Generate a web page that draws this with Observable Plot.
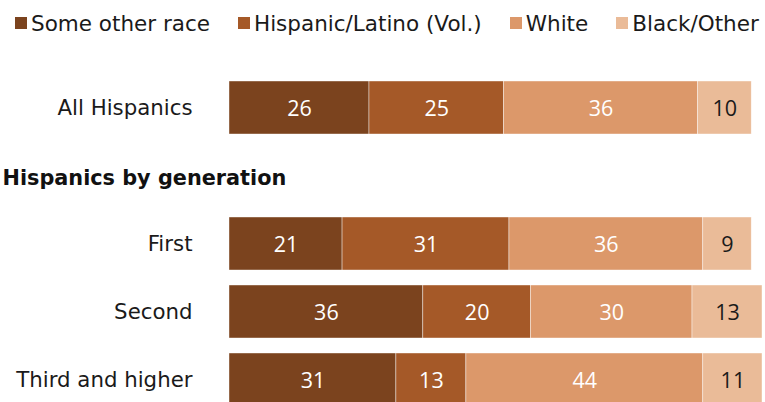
<!DOCTYPE html>
<html><head><meta charset="utf-8">
<script src="https://cdn.jsdelivr.net/npm/d3@7"></script>
<script src="https://cdn.jsdelivr.net/npm/@observablehq/plot@0.6"></script>
<style>
body{margin:0;overflow:hidden;background:#fff;font-family:"DejaVu Sans",Verdana,sans-serif;}
#legend{height:46px;display:flex;align-items:center;padding-left:15px;font-size:21.5px;color:#1a1a1a;white-space:nowrap}
.item{display:flex;align-items:center;margin-right:28px}
.sw{width:12px;height:12px;margin-right:4px;flex:none}
</style></head><body>
<div id="legend"></div><div id="chart"></div>
<script>
const rows = ["All Hispanics", "Hispanics by generation", "First", "Second", "Third and higher"];
const headingRow = "Hispanics by generation";
const series = ["Some other race", "Hispanic/Latino (Vol.)", "White", "Black/Other"];
const colors = ["#7b431e", "#a55928", "#dc986a", "#eabb98"];
const allHispanics = [26, 25, 36, 10];
const firstGen = [21, 31, 36, 9];
const secondGen = [36, 20, 30, 13];
const thirdGen = [31, 13, 44, 11];

const table = [
  ["All Hispanics", allHispanics],
  ["First", firstGen],
  ["Second", secondGen],
  ["Third and higher", thirdGen]
];
const data = table.flatMap(([row, vals]) => vals.map((v, i) => ({row, race: series[i], value: v})));
const lastSeries = series[series.length - 1];

// legend
const legend = document.getElementById("legend");
series.forEach((s, i) => {
  const it = document.createElement("div");
  it.className = "item";
  it.innerHTML = `<span class="sw" style="background:${colors[i]}"></span><span>${s}</span>`;
  legend.appendChild(it);
});

const chart = Plot.plot({
  width: 765,
  height: 361,
  marginLeft: 229,
  marginRight: 3,
  marginTop: 34,
  marginBottom: 0,
  style: {fontFamily: "'DejaVu Sans', Verdana, sans-serif", fontSize: "21.3px", color: "#1a1a1a", background: "white"},
  x: {domain: [0, 99], axis: null},
  y: {domain: rows, paddingInner: 0.226, paddingOuter: 0, label: null, tickSize: 0, tickPadding: 37,
      tickFormat: d => d === headingRow ? "" : d},
  color: {domain: series, range: colors},
  marks: [
    Plot.barX(data, Plot.stackX({x: "value", y: "row", fill: "race", stroke: "white", strokeWidth: 0.6, strokeOpacity: 0.7})),
    Plot.text(data, Plot.stackX({x: "value", y: "row", z: "race",
      text: d => d.race === lastSeries ? null : String(d.value),
      fill: "white", fontSize: 21.5, fontFamily: "'Open Sans', sans-serif", dy: 1})),
    Plot.text(data, Plot.stackX({x: "value", y: "row", z: "race",
      text: d => d.race === lastSeries ? String(d.value) : null,
      fill: "#1a1a1a", fontSize: 21.5, fontFamily: "'Open Sans', sans-serif", dy: 1})),
    Plot.text([headingRow], {y: d => d, text: d => d, frameAnchor: "left", textAnchor: "start", dx: -227, dy: 2,
      fontWeight: "bold", fontSize: 20.8, fill: "#111"})
  ]
});
document.getElementById("chart").appendChild(chart);
</script>
</body></html>
